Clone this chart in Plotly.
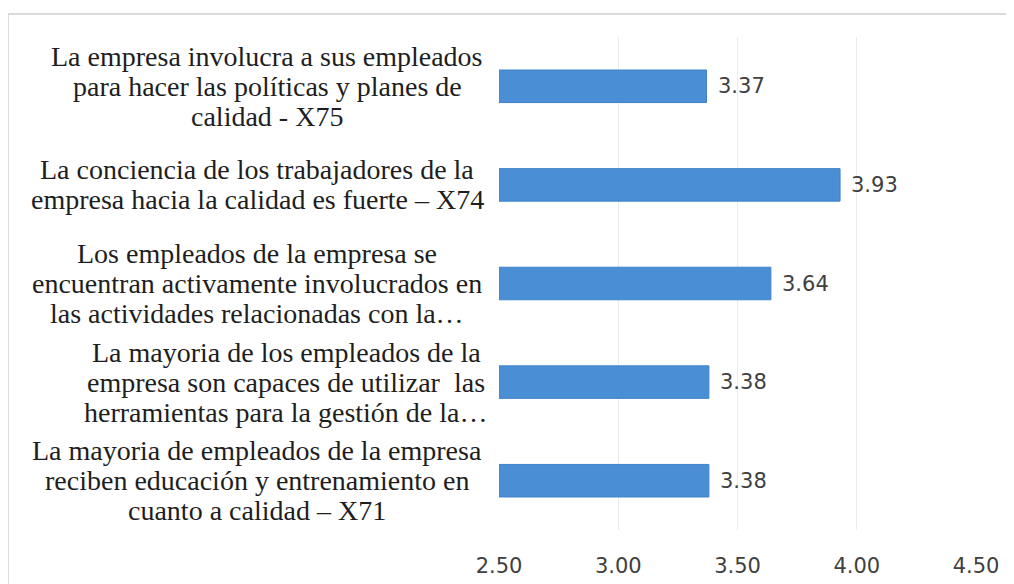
import plotly.graph_objects as go

labels = [
    ["La mayoria de empleados de la empresa", "reciben educación y entrenamiento en", "cuanto a calidad – X71"],
    ["La mayoria de los empleados de la", "empresa son capaces de utilizar  las", "herramientas para la gestión de la…"],
    ["Los empleados de la empresa se", "encuentran activamente involucrados en", "las actividades relacionadas con la…"],
    ["La conciencia de los trabajadores de la", "empresa hacia la calidad es fuerte – X74"],
    ["La empresa involucra a sus empleados", "para hacer las políticas y planes de", "calidad - X75"],
]
values = [3.38, 3.38, 3.64, 3.93, 3.37]
value_text = ["3.38", "3.38", "3.64", "3.93", "3.37"]
tick_vals = [2.5, 3.0, 3.5, 4.0, 4.5]
tick_text = ["2.50", "3.00", "3.50", "4.00", "4.50"]

W, H = 1014, 584
ml, mr, mt, mb = 491, 46, 29, 62
pw = W - ml - mr
ph = H - mt - mb
px_per_cat = ph / len(values)
line_gap = 30 / px_per_cat  # 30 px line spacing in category units
# text box centres (px left of the plot area) for each label block
label_centre_px = [242, 213, 242, 242, 232]

fig = go.Figure()
fig.add_trace(go.Bar(
    y=list(range(len(values))),
    x=[v - 2.5 for v in values],
    base=2.5,
    orientation="h",
    width=0.33,
    marker=dict(color="#4a8fd6", line=dict(color="#3f82c8", width=1)),
    hoverinfo="skip",
))

# value labels next to the bar ends
for i, (v, t) in enumerate(zip(values, value_text)):
    fig.add_annotation(
        x=v, y=i, xref="x", yref="y", xanchor="left", yanchor="middle",
        xshift=9, text=t, showarrow=False,
        font=dict(family="DejaVu Sans", size=21, color="#404040"),
    )

# category labels, centred lines to the left of the bars
for i, lines in enumerate(labels):
    n = len(lines)
    for j, line in enumerate(lines):
        fig.add_annotation(
            x=-label_centre_px[i] / pw, xref="paper", xanchor="center",
            y=i + ((n - 1) / 2 - j) * line_gap, yref="y", yanchor="middle",
            text=line, showarrow=False,
            font=dict(family="Liberation Serif", size=28, color="#1e1e1e"),
        )

# outer chart frame
fig.add_shape(
    type="rect", xref="paper", yref="paper",
    x0=(0 - ml) / pw, x1=(W + 5 - ml) / pw,
    y0=-(H + 5 - mt - ph) / ph, y1=1 + (mt - 6) / ph,
    line=dict(color="#d0d0d0", width=1.5), fillcolor="rgba(0,0,0,0)", layer="below",
)

fig.update_layout(
    width=W, height=H,
    margin=dict(l=ml, r=mr, t=mt, b=mb),
    paper_bgcolor="white", plot_bgcolor="white",
    showlegend=False,
)
fig.update_xaxes(
    range=[2.5, 4.5], tickvals=tick_vals, ticktext=tick_text,
    showgrid=True, gridcolor="#ebebeb", gridwidth=1,
    zeroline=False, showline=False, ticks="",
    tickfont=dict(family="DejaVu Sans", size=21, color="#404040"),
    ticklabelstandoff=21,
)
fig.update_yaxes(
    range=[-0.5, 4.5], showticklabels=False, showgrid=False,
    zeroline=False, showline=False, ticks="",
)

fig.write_html("out.html")
